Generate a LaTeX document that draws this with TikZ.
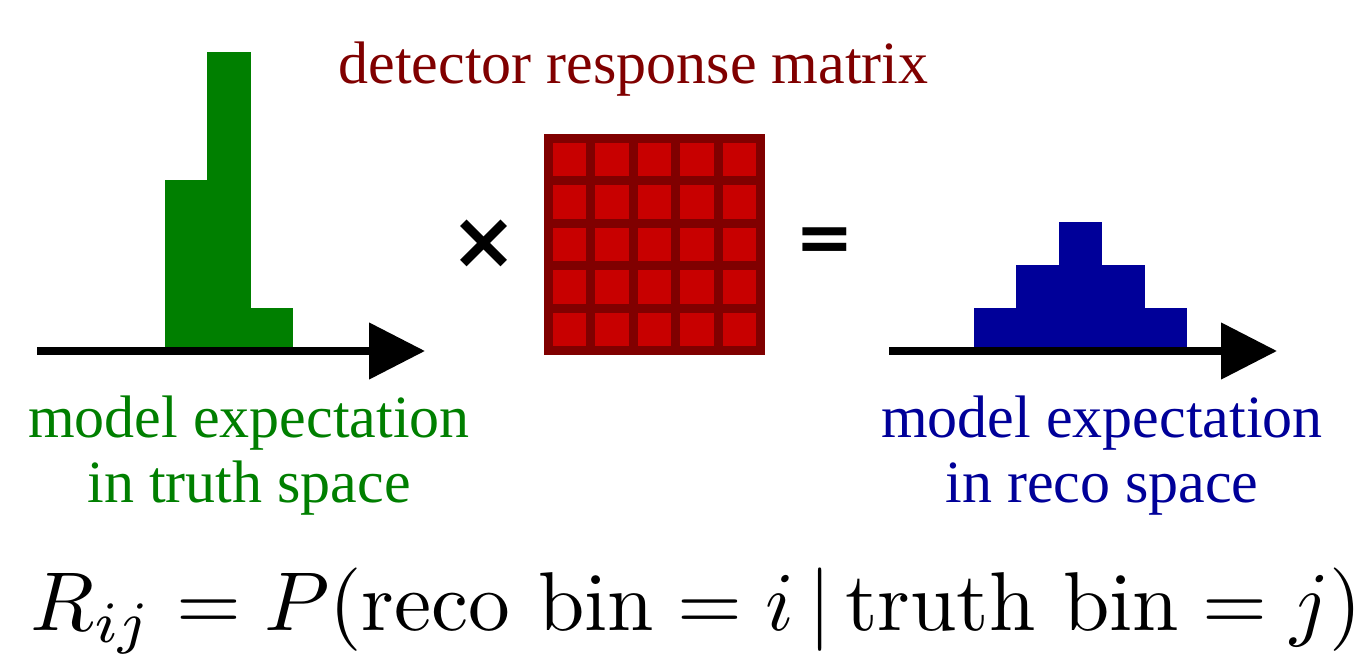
\documentclass[tikz,border=0pt]{standalone}
\usepackage{fontspec}
\usepackage{graphicx}
\usetikzlibrary{arrows.meta}
\newfontfamily\labfont{Liberation Serif}
\newfontfamily\symfont{DejaVu Sans}
\definecolor{truthgreen}{RGB}{0,127,0}
\definecolor{recoblue}{RGB}{0,0,153}
\definecolor{darkred}{RGB}{128,0,0}
\definecolor{cellred}{RGB}{200,0,0}
\tikzset{
  axisline/.style={line width=8pt,-{Triangle[length=56pt,width=55pt]}},
  lab/.style={inner sep=0pt,anchor=base,font=\labfont\fontsize{60}{72}\selectfont},
  op/.style={inner sep=0pt,anchor=center,font=\symfont\bfseries}
}
\begin{document}
\begin{tikzpicture}[x=1pt,y=-1pt]
\useasboundingbox (0,0) rectangle (1367,658);
% green histogram
\fill[truthgreen] (165,180) rectangle (207,351);
\fill[truthgreen] (207,52) rectangle (251,351);
\fill[truthgreen] (251,308) rectangle (293,351);
\coordinate (g0) at (37,351);
\coordinate (g1) at (425,351);
\draw[axisline] (g0) -- (g1);
% blue histogram
\fill[recoblue] (974,308) rectangle (1016,351);
\fill[recoblue] (1016,265) rectangle (1059,351);
\fill[recoblue] (1059,222) rectangle (1102,351);
\fill[recoblue] (1102,265) rectangle (1145,351);
\fill[recoblue] (1145,308) rectangle (1187,351);
\coordinate (b0) at (889,351);
\coordinate (b1) at (1277,351);
\draw[axisline] (b0) -- (b1);
% matrix
\fill[darkred] (544,134) rectangle (765,355);
\foreach \i in {0,...,4}{
  \foreach \j in {0,...,4}{
    \fill[cellred] ({552.6+42.6*\i},{142.6+42.6*\j}) rectangle ++(33.4,33.4);
  }
}
% operators
\node[op,font=\symfont\bfseries\fontsize{80}{90}\selectfont] (times) at (484.5,244.5) {×};
\node[op,font=\symfont\bfseries\fontsize{70}{80}\selectfont] (equals) at (825,244.5) {=};
% labels
\node[lab,text=darkred] (title) at (633.5,84) {detector response matrix};
\node[lab,text=truthgreen] (t1) at (249,437) {model expectation};
\node[lab,text=truthgreen] (t2) at (249,502) {in truth space};
\node[lab,text=recoblue] (r1) at (1102,437) {model expectation};
\node[lab,text=recoblue] (r2) at (1102,502) {in reco space};
% formula
\node[inner sep=0pt,anchor=base] (formula) at (696.5,630)
  {\resizebox{1331pt}{!}{$R_{ij} = P(\mathrm{reco\ bin} = i\,|\,\mathrm{truth\ bin} = j)$}};
\end{tikzpicture}
\end{document}
